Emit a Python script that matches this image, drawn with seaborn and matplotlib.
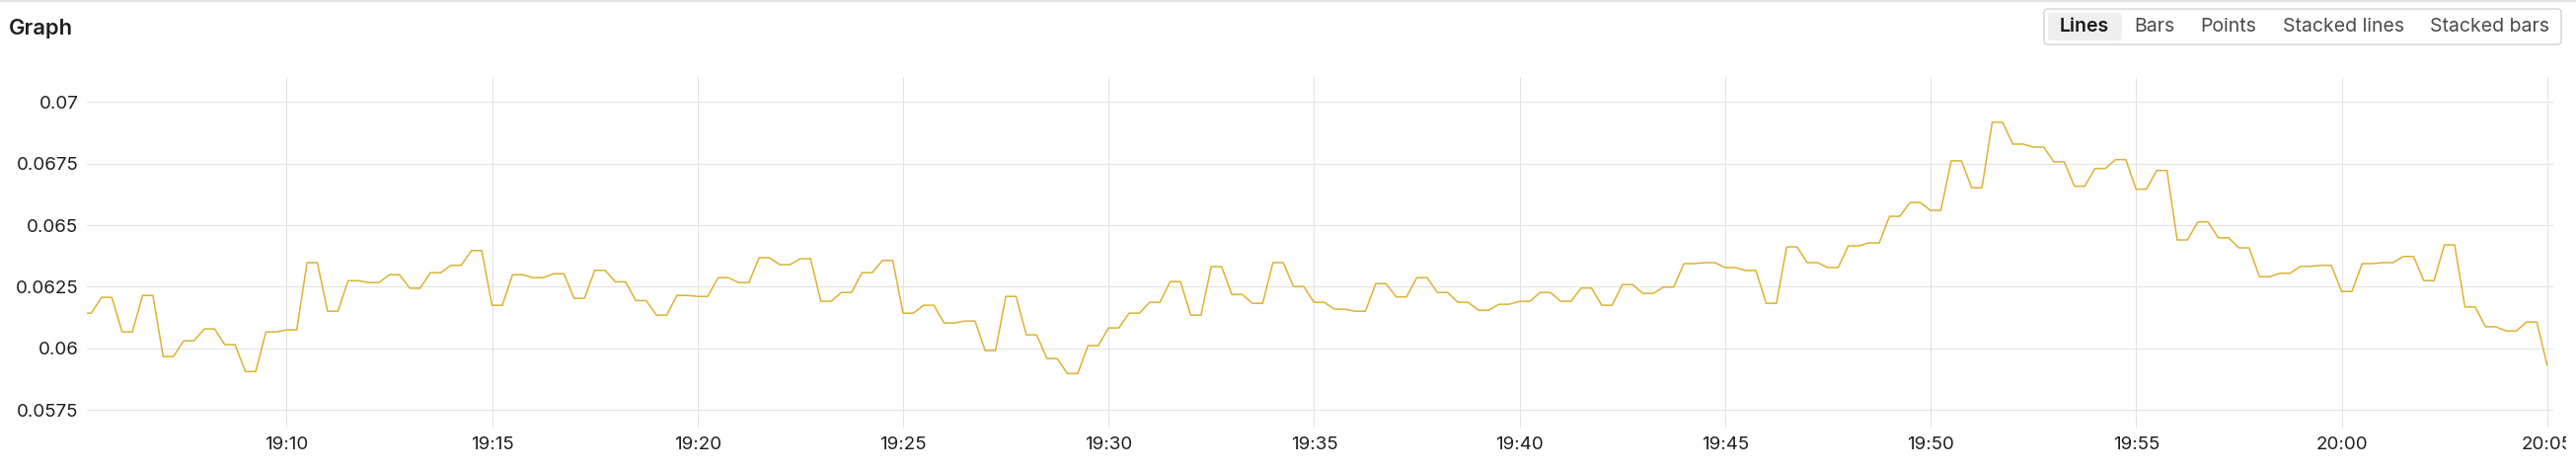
import matplotlib
matplotlib.use("Agg")
import matplotlib.pyplot as plt
import matplotlib.dates as mdates
from matplotlib.patches import FancyBboxPatch
from matplotlib.lines import Line2D
from matplotlib.transforms import IdentityTransform, Bbox
import seaborn as sns
import pandas as pd

# one sample every 15 s, value changes every 30 s
start = "2024-05-14 19:05:00"
step = "15s"
rate = [
    0.06143, 0.06143, 0.06207, 0.06207, 0.06067, 0.06067, 0.06215, 0.06215,
    0.05967, 0.05967, 0.06031, 0.06031, 0.06079, 0.06079, 0.06015, 0.06015,
    0.05906, 0.05906, 0.06067, 0.06067, 0.06075, 0.06075, 0.06348, 0.06348,
    0.06151, 0.06151, 0.06275, 0.06275, 0.06267, 0.06267, 0.06299, 0.06299,
    0.06244, 0.06244, 0.06307, 0.06307, 0.06337, 0.06337, 0.06397, 0.06397,
    0.06175, 0.06175, 0.06299, 0.06299, 0.06287, 0.06287, 0.06303, 0.06303,
    0.06203, 0.06203, 0.06317, 0.06317, 0.06270, 0.06270, 0.06194, 0.06194,
    0.06135, 0.06135, 0.06215, 0.06215, 0.06211, 0.06211, 0.06287, 0.06287,
    0.06267, 0.06267, 0.06368, 0.06368, 0.06340, 0.06340, 0.06364, 0.06364,
    0.06191, 0.06191, 0.06227, 0.06227, 0.06307, 0.06307, 0.06357, 0.06357,
    0.06143, 0.06143, 0.06175, 0.06175, 0.06103, 0.06103, 0.06111, 0.06111,
    0.05991, 0.05991, 0.06211, 0.06211, 0.06055, 0.06055, 0.05959, 0.05959,
    0.05898, 0.05898, 0.06011, 0.06011, 0.06083, 0.06083, 0.06143, 0.06143,
    0.06187, 0.06187, 0.06271, 0.06271, 0.06135, 0.06135, 0.06332, 0.06332,
    0.06219, 0.06219, 0.06183, 0.06183, 0.06348, 0.06348, 0.06251, 0.06251,
    0.06187, 0.06187, 0.06159, 0.06159, 0.06151, 0.06151, 0.06263, 0.06263,
    0.06209, 0.06209, 0.06287, 0.06287, 0.06227, 0.06227, 0.06187, 0.06187,
    0.06155, 0.06155, 0.06179, 0.06179, 0.06191, 0.06191, 0.06227, 0.06227,
    0.06191, 0.06191, 0.06245, 0.06245, 0.06175, 0.06175, 0.06259, 0.06259,
    0.06223, 0.06223, 0.06249, 0.06249, 0.06344, 0.06344, 0.06348, 0.06348,
    0.06328, 0.06328, 0.06316, 0.06316, 0.06183, 0.06183, 0.06412, 0.06412,
    0.06348, 0.06348, 0.06328, 0.06328, 0.06416, 0.06416, 0.06428, 0.06428,
    0.06536, 0.06536, 0.06592, 0.06592, 0.06560, 0.06560, 0.06761, 0.06761,
    0.06652, 0.06652, 0.06918, 0.06918, 0.06829, 0.06829, 0.06817, 0.06817,
    0.06757, 0.06757, 0.06658, 0.06658, 0.06730, 0.06730, 0.06766, 0.06766,
    0.06646, 0.06646, 0.06722, 0.06722, 0.06440, 0.06440, 0.06513, 0.06513,
    0.06449, 0.06449, 0.06408, 0.06408, 0.06291, 0.06291, 0.06305, 0.06305,
    0.06333, 0.06333, 0.06337, 0.06337, 0.06231, 0.06231, 0.06344, 0.06344,
    0.06348, 0.06348, 0.06373, 0.06373, 0.06275, 0.06275, 0.06420, 0.06420,
    0.06168, 0.06168, 0.06088, 0.06088, 0.06071, 0.06071, 0.06107, 0.06107,
    0.05932,
]
x_start = "2024-05-14 19:05:09"
x_end = "2024-05-14 20:05:09"
y_ticks = [0.0575, 0.06, 0.0625, 0.065, 0.0675, 0.07]
y_tick_labels = ["0.0575", "0.06", "0.0625", "0.065", "0.0675", "0.07"]
view_modes = ["Lines", "Bars", "Points", "Stacked lines", "Stacked bars"]

sns.set_theme(style="white")
plt.rcParams["font.family"] = ["Inter", "DejaVu Sans"]

df = pd.DataFrame({"time": pd.date_range(start, periods=len(rate), freq=step),
                   "value": rate})

W, H = 2610, 478
fig = plt.figure(figsize=(W / 100, H / 100), dpi=100)
ax = fig.add_axes([88.3 / W, 45.3 / H, (2587 - 88.3) / W, (432.7 - 78.3) / H])

sns.lineplot(data=df, x="time", y="value", ax=ax, color="#dcb232",
             linewidth=1.1, legend=False)

ax.set_xlim(pd.Timestamp(x_start), pd.Timestamp(x_end))
ax.set_ylim(0.0568, 0.0710)
ax.set_yticks(y_ticks)
ax.set_yticklabels(y_tick_labels)
ax.xaxis.set_major_locator(mdates.MinuteLocator(byminute=range(0, 60, 5)))
ax.xaxis.set_major_formatter(mdates.DateFormatter("%H:%M"))
ax.set_xlabel("")
ax.set_ylabel("")
for s in ax.spines.values():
    s.set_visible(False)
ax.grid(True, axis="y", color="#e4e4e4", linewidth=0.8)
ax.grid(True, axis="x", color="#e2e2e2", linewidth=0.7)
ax.set_axisbelow(True)
ax.tick_params(axis="both", length=0, labelsize=13.5, colors="#1e1e1e")
ax.tick_params(axis="x", pad=6.5)
ax.tick_params(axis="y", pad=6.5)

fig.canvas.draw()
for lbl in ax.get_xticklabels():
    lbl.set_clip_box(Bbox([[0, 0], [2600, H]]))
    lbl.set_clip_on(True)

px = IdentityTransform()

# top border
fig.add_artist(Line2D([0, W], [H - 1, H - 1], transform=px, color="#e3e3e3", linewidth=1.5))

fig.text(9, H - 35, "Graph", transform=px, fontsize=15.8, fontweight="semibold",
         color="#1f1f1f", va="baseline", ha="left")

# view mode switcher
fig.add_artist(FancyBboxPatch((2071, H - 45), 524, 36, transform=px,
                              boxstyle="round,pad=0,rounding_size=4",
                              facecolor="white", edgecolor="#cfcfcf", linewidth=0.9))
fig.add_artist(FancyBboxPatch((2075, H - 41), 75, 28, transform=px,
                              boxstyle="round,pad=0,rounding_size=3",
                              facecolor="#efefef", edgecolor="none"))
centers = [2112, 2183, 2258, 2375, 2522]
for name, cx in zip(view_modes, centers):
    active = name == "Lines"
    fig.text(cx, H - 27, name, transform=px, fontsize=14,
             fontweight="semibold" if active else "normal",
             color="#1a1a1a" if active else "#4a4a4a", ha="center", va="center")

fig.savefig("out.png", dpi=100)
